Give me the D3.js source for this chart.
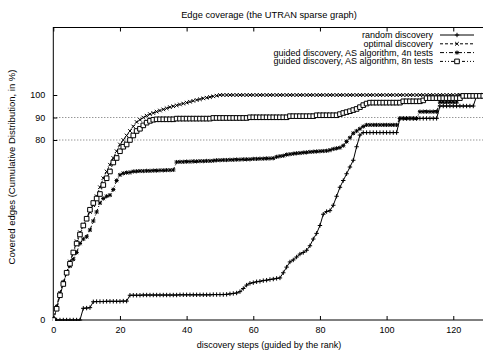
<!DOCTYPE html>
<html>
<head>
<meta charset="utf-8">
<script src="https://cdn.jsdelivr.net/npm/d3@7"></script>
<style>
  body { margin: 0; background: #fff; }
  text { font-family: "Liberation Sans", Arial, sans-serif; fill: #000; }
</style>
</head>
<body>
<div id="chart"></div>
<script>
// chart values, one per discovery step (0..130)
var seriesNames = [
  "random discovery",
  "optimal discovery",
  "guided discovery, AS algorithm, 4n tests",
  "guided discovery, AS algorithm, 8n tests"
];

var randomValues = [
  0, 0, 0, 0, 0, 0, 0, 0, 0, 5.2,
  5.3, 5.5, 8.1, 8.2, 8.2, 8.2, 8.3, 8.3, 8.3, 8.3,
  8.3, 8.4, 8.4, 11.0, 11.0, 11.0, 11.0, 11.1, 11.1, 11.1,
  11.1, 11.1, 11.1, 11.1, 11.1, 11.1, 11.1, 11.1, 11.2, 11.2,
  11.2, 11.2, 11.2, 11.2, 11.2, 11.2, 11.2, 11.2, 11.3, 11.3,
  11.3, 11.3, 11.4, 11.6, 11.8, 12.0, 12.6, 14.0, 15.5, 16.3,
  16.6, 17.0, 17.2, 17.5, 17.7, 18.0, 18.2, 18.5, 18.7, 21.0,
  23.5, 25.8, 26.7, 28.0, 29.3, 30.0, 31.0, 33.0, 36.0, 38.5,
  42.0, 47.0, 48.2, 48.6, 51.0, 55.0, 59.0, 62.0, 65.0, 68.0,
  71.0, 77.0, 82.2, 83.3, 83.3, 83.3, 83.3, 83.3, 83.3, 83.3,
  83.3, 83.3, 83.3, 83.3, 89.6, 89.6, 89.6, 89.6, 89.6, 89.6,
  89.6, 89.6, 89.6, 89.6, 89.6, 89.6, 95.1, 95.1, 95.1, 95.1,
  95.1, 95.1, 95.1, 95.1, 95.1, 95.1, 95.1, 99.6, 99.6, 99.6,
  99.6
];

var optimalValues = [
  0, 5, 11, 16, 21, 26, 30, 35, 39, 42,
  45, 48, 51, 55, 59, 63, 66, 69, 72, 75,
  78, 80, 82, 84, 86, 88, 89, 90, 90.8, 91.5,
  92, 92.6, 93.1, 93.6, 94.1, 94.6, 95, 95.4, 95.8, 96.2,
  96.6, 97, 97.4, 97.8, 98.1, 98.5, 98.8, 99.1, 99.4, 99.7,
  100, 100, 100, 100, 100, 100, 100, 100, 100, 100,
  100, 100, 100, 100, 100, 100, 100, 100, 100, 100,
  100, 100, 100, 100, 100, 100, 100, 100, 100, 100,
  100, 100, 100, 100, 100, 100, 100, 100, 100, 100,
  100, 100, 100, 100, 100, 100, 100, 100, 100, 100,
  100, 100, 100, 100, 100, 100, 100, 100, 100, 100,
  100, 100, 100, 100, 100, 100, 100, 100, 100, 100,
  100, 100, 100, 100, 100, 100, 100, 100, 100, 100,
  100
];

var guided4nValues = [
  0, 6, 12, 17, 21, 24, 27, 30, 34, 36,
  37, 40, 44, 48, 52, 54, 55, 55.5, 58, 62,
  64.5, 65.2, 65.5, 65.6, 66, 66.1, 66.2, 66.2, 66.3, 66.3,
  66.4, 66.4, 66.5, 66.5, 66.6, 66.6, 66.7, 70.2, 70.3, 70.3,
  70.4, 70.4, 70.5, 70.5, 70.6, 70.6, 70.7, 70.7, 70.8, 71.0,
  71.0, 71.1, 71.1, 71.2, 71.2, 71.3, 71.3, 71.4, 71.4, 71.4,
  71.6, 71.6, 71.7, 71.7, 71.8, 71.8, 71.9, 72.5, 72.8, 73.0,
  73.5, 73.7, 73.9, 74.1, 74.2, 74.4, 74.5, 74.7, 74.8, 74.9,
  75.0, 75.1, 75.2, 75.5, 76.0, 76.3, 76.6, 77.5, 79.3, 81.0,
  83.0, 84.0, 85.0, 86.0, 86.7, 86.7, 86.7, 86.7, 86.7, 86.7,
  86.7, 86.7, 86.7, 86.7, 89.6, 89.6, 89.6, 89.6, 89.6, 89.6,
  92.6, 92.6, 92.6, 92.6, 92.6, 92.6, 96.8, 96.8, 96.8, 96.8,
  96.8, 96.8, 99.8, 99.8, 99.8, 99.8, 99.8, 99.8, 99.8, 99.8,
  99.8
];

var guided8nValues = [
  0, 5, 11, 16, 21, 25, 30, 34, 38, 42,
  45, 49, 52, 54, 56, 60, 63, 66, 70, 72,
  75, 77, 78, 80, 82, 84, 85, 86.5, 87.7, 88.5,
  89, 89.2, 89.2, 89.2, 89.2, 89.2, 89.2, 89.5, 89.5, 89.5,
  89.5, 89.5, 89.5, 89.5, 89.5, 89.5, 89.5, 89.5, 89.8, 89.8,
  89.8, 89.8, 89.8, 89.8, 89.8, 89.8, 89.8, 89.8, 89.8, 90.1,
  90.1, 90.1, 90.1, 90.1, 90.1, 90.1, 90.1, 90.1, 90.1, 90.1,
  90.1, 90.6, 90.6, 90.6, 90.6, 90.6, 90.6, 90.6, 90.6, 91.0,
  91.0, 91.0, 91.0, 91.0, 91.0, 91.0, 91.5, 92.0, 92.4, 92.8,
  93.3, 93.8, 94.6, 95.5, 96.2, 96.6, 96.6, 96.6, 96.6, 96.6,
  96.6, 96.6, 96.6, 96.6, 96.6, 97.2, 97.2, 97.2, 97.2, 97.2,
  97.2, 97.6, 98.6, 98.6, 98.6, 98.6, 98.6, 98.6, 98.6, 98.6,
  98.6, 98.6, 98.6, 99.6, 99.6, 99.6, 99.6, 99.6, 99.6, 99.6,
  99.6
];

var xTicks = [0, 20, 40, 60, 80, 100, 120];
var yTicks = [0, 80, 90, 100];
var gridValues = [80, 90];

// layout
var W = 483, H = 350;
var margin = { top: 27.5, right: -3.6, bottom: 30, left: 53.3 };
var width = W - margin.left - margin.right;
var height = H - margin.top - margin.bottom;

var svg = d3.select("#chart")
  .append("svg")
  .attr("width", W)
  .attr("height", H);

var g = svg.append("g")
  .attr("transform", "translate(" + margin.left + "," + margin.top + ")");

var xScale = d3.scaleLinear().domain([0, 130]).range([0, width]);
var yScale = d3.scaleLinear().domain([0, 130]).range([height, 0]);

svg.append("defs").append("clipPath").attr("id", "clip")
  .append("rect").attr("x", -1).attr("y", -1)
  .attr("width", width + 2).attr("height", height + 2);

// dotted reference lines
g.selectAll(".grid")
  .data(gridValues)
  .enter()
  .append("line")
  .attr("class", "grid")
  .attr("x1", 0)
  .attr("x2", width)
  .attr("y1", function(d) { return yScale(d); })
  .attr("y2", function(d) { return yScale(d); })
  .style("stroke", "#444")
  .style("stroke-width", 0.8)
  .style("stroke-dasharray", "1,2");

// axes (ticks point inward like gnuplot)
var xAxis = d3.axisBottom(xScale).tickValues(xTicks).tickSizeInner(-4).tickSizeOuter(0).tickPadding(7);
var xAxisTop = d3.axisTop(xScale).tickValues(xTicks).tickSizeInner(-4).tickSizeOuter(0).tickFormat("");
var yAxis = d3.axisLeft(yScale).tickValues(yTicks).tickSizeInner(-4).tickSizeOuter(0).tickPadding(8);

function styleAxis(sel) {
  sel.select(".domain").remove();
  sel.selectAll("line").style("stroke", "#000");
  sel.selectAll("text").style("font-size", "9px")
    .style("font-family", "'Liberation Sans', Arial, sans-serif");
}

g.append("g").attr("transform", "translate(0," + height + ")").call(xAxis).call(styleAxis);
g.append("g").call(xAxisTop).call(styleAxis);
g.append("g").call(yAxis).call(styleAxis);

// frame
g.append("rect")
  .attr("x", 0).attr("y", 0)
  .attr("width", width).attr("height", height)
  .style("fill", "none")
  .style("stroke", "#000")
  .style("stroke-width", 1);

// series
var dashes = [null, "3,2", "4,2,1,2", "3,2,1,2,1,2"];
var symbols = ["plus", "cross", "star", "square"];
var allValues = [randomValues, optimalValues, guided4nValues, guided8nValues];

function markerPath(kind, s) {
  if (kind == "plus") return "M" + (-s) + ",0H" + s + "M0," + (-s) + "V" + s;
  if (kind == "cross") return "M" + (-s) + "," + (-s) + "L" + s + "," + s + "M" + (-s) + "," + s + "L" + s + "," + (-s);
  if (kind == "star") return markerPath("plus", s) + markerPath("cross", s * 0.8);
  return "M" + (-s) + "," + (-s) + "H" + s + "V" + s + "H" + (-s) + "Z";
}
var markerSize = [2.2, 1.8, 2.1, 2.3];

var line = d3.line()
  .x(function(d) { return xScale(d.step); })
  .y(function(d) { return yScale(d.value); });

var plot = g.append("g").attr("clip-path", "url(#clip)");

allValues.forEach(function(values, i) {
  var data = values.map(function(v, k) { return { step: k, value: v }; });
  plot.append("path")
    .datum(data)
    .attr("d", line)
    .style("fill", "none")
    .style("stroke", "#000")
    .style("stroke-width", 1)
    .style("stroke-dasharray", dashes[i]);
  plot.selectAll(".m" + i)
    .data(data)
    .enter()
    .append("path")
    .attr("class", "m" + i)
    .attr("transform", function(d) {
      return "translate(" + xScale(d.step) + "," + yScale(d.value) + ")";
    })
    .attr("d", markerPath(symbols[i], markerSize[i]))
    .style("fill", i == 3 ? "#fff" : "none")
    .style("stroke", "#000")
    .style("stroke-width", 1);
});

// legend
var legend = svg.append("g");
seriesNames.forEach(function(name, i) {
  var y = 35 + i * 8.8;
  legend.append("text")
    .attr("x", 433)
    .attr("y", y + 3)
    .attr("text-anchor", "end")
    .style("font-size", "9px")
    .text(name);
  legend.append("line")
    .attr("x1", 440).attr("x2", 474)
    .attr("y1", y).attr("y2", y)
    .style("stroke", "#000")
    .style("stroke-width", 1)
    .style("stroke-dasharray", dashes[i]);
  legend.append("path")
    .attr("transform", "translate(457," + y + ")")
    .attr("d", markerPath(symbols[i], markerSize[i]))
    .style("fill", i == 3 ? "#fff" : "none")
    .style("stroke", "#000")
    .style("stroke-width", 1);
});

// titles
svg.append("text")
  .attr("x", 269)
  .attr("y", 18)
  .attr("text-anchor", "middle")
  .style("font-size", "9.3px")
  .text("Edge coverage (the UTRAN sparse graph)");

svg.append("text")
  .attr("x", 269)
  .attr("y", 348)
  .attr("text-anchor", "middle")
  .style("font-size", "9px")
  .text("discovery steps (guided by the rank)");

svg.append("text")
  .attr("transform", "translate(15,167) rotate(-90)")
  .attr("text-anchor", "middle")
  .style("font-size", "9.5px")
  .text("Covered edges (Cumulative Distribution, in %)");
</script>
</body>
</html>
